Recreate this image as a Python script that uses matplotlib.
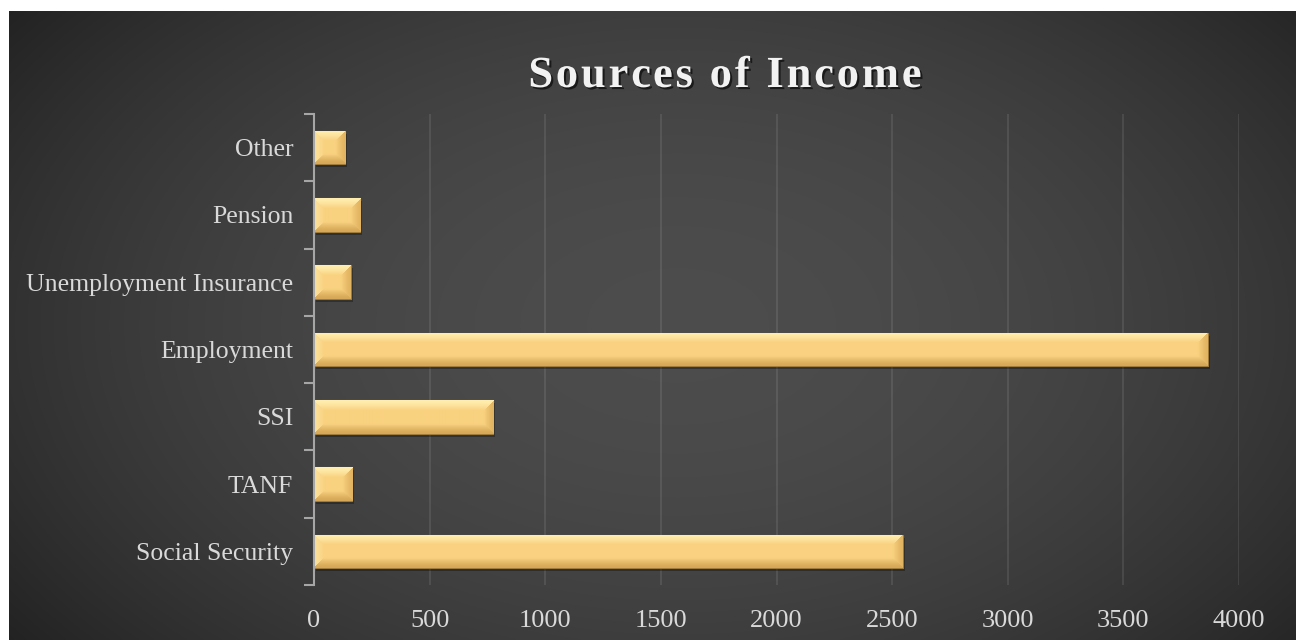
import numpy as np
import matplotlib.pyplot as plt
import matplotlib.patheffects as pe
from matplotlib.transforms import offset_copy

categories = ["Social Security", "TANF", "SSI", "Employment",
              "Unemployment Insurance", "Pension", "Other"]
values = [2545, 165, 775, 3865, 160, 200, 135]
xticks = [0, 500, 1000, 1500, 2000, 2500, 3000, 3500, 4000]
title = "Sources of Income"

W, H = 1296, 640
fig = plt.figure(figsize=(W / 100, H / 100), dpi=100, facecolor="white")
plt.rcParams['font.family'] = ['Liberation Serif', 'DejaVu Serif']

# dark radial background
bg = fig.add_axes([9 / W, 0, 1 - 9 / W, 1 - 11 / H])
bg.set_axis_off()
gy, gx = np.mgrid[0:1:300j, 0:1:600j]
r2 = ((gx - 0.52) / 0.62) ** 2 + ((gy - 0.5) / 0.8) ** 2
shade = np.clip(0.30 - 0.15 * r2, 0.13, 0.30)
bg.imshow(np.dstack([shade] * 3), aspect="auto", extent=(0, 1, 0, 1),
          interpolation="bilinear")
bg.set_xlim(0, 1)
bg.set_ylim(0, 1)

ax = fig.add_axes([314 / W, 1 - 585 / H, (1239 - 314) / W, (585 - 114) / H])
ax.set_facecolor("none")
ypos = np.arange(len(categories))
bar_h = 0.5
ax.set_xlim(0, 4000)
ax.set_ylim(-0.5, len(categories) - 0.5)

# soft shadow under each bar
shadow_tr = offset_copy(ax.transData, fig=fig, x=2, y=-3, units="dots")
ax.barh(ypos, values, height=bar_h, color="black", alpha=0.3,
        transform=shadow_tr, zorder=2, linewidth=0)

bars = ax.barh(ypos, values, height=bar_h, color="#f8d07e",
               edgecolor="#a07c3c", linewidth=0.8, zorder=3)

face = np.array([249, 210, 128]) / 255
top_c = np.array([255, 238, 175]) / 255
bot_c = np.array([214, 168, 88]) / 255
left_c = np.array([252, 224, 152]) / 255
right_c = np.array([226, 180, 98]) / 255

for b, v, y in zip(bars, values, ypos):
    x0, y0 = ax.transData.transform((0, y - bar_h / 2))
    x1, y1 = ax.transData.transform((v, y + bar_h / 2))
    pw, ph = max(int(round(x1 - x0)), 2), max(int(round(y1 - y0)), 2)
    bev = min(9.5, ph / 3.0)
    jj, ii = np.meshgrid(np.arange(pw), np.arange(ph))
    d = np.stack([ii, ph - 1 - ii, jj, pw - 1 - jj]).astype(float)
    which = np.argmin(d, axis=0)
    dmin = np.min(d, axis=0)
    edge = np.empty((ph, pw, 3))
    for k, c in enumerate([top_c, bot_c, left_c, right_c]):
        edge[which == k] = c
    t = np.clip(dmin / bev, 0, 1)[..., None] ** 1.4
    img = edge * (1 - t) + face * t
    img[dmin >= bev] = face
    im = ax.imshow(img, extent=(0, v, y - bar_h / 2, y + bar_h / 2),
                   aspect="auto", interpolation="bilinear", zorder=3.5)
    im.set_clip_path(b)

ax.set_xlim(0, 4000)
ax.set_ylim(-0.5, len(categories) - 0.5)

ax.set_xticks(xticks)
ax.set_xticklabels([str(t) for t in xticks])
ax.set_yticks(np.arange(-0.5, len(categories), 1.0))
ax.set_yticklabels([])
ax.set_yticks(ypos, minor=True)
ax.set_yticklabels(categories, minor=True)
ax.tick_params(axis="y", which="major", length=7, width=1.5, color="#a6a6a6",
               direction="out")
ax.tick_params(axis="y", which="minor", length=0, pad=15, labelsize=18.5,
               labelcolor="#d9d9d9")
ax.tick_params(axis="x", length=0, pad=18, labelsize=19, labelcolor="#d9d9d9")

ax.grid(axis="x", color="white", alpha=0.11, linewidth=1.2, zorder=0)
ax.set_axisbelow(True)
for s in ["top", "right", "bottom"]:
    ax.spines[s].set_visible(False)
ax.spines["left"].set_color("#a6a6a6")
ax.spines["left"].set_linewidth(1.5)
ax.spines["left"].set_zorder(4)

# title with letter spacing, drawn char by char
renderer = fig.canvas.get_renderer()
tprops = dict(fontsize=32, fontweight="bold", color="#f2f2f2")
spacing = 2.8


def text_width(s):
    if not s:
        return 0.0
    tmp = fig.text(0, 0, s.replace(" ", "\u00a0"), **tprops)
    w = tmp.get_window_extent(renderer).width
    tmp.remove()
    return w


total = text_width(title) + spacing * (len(title) - 1)
x_start = 725 - total / 2
shadow = [pe.withSimplePatchShadow(offset=(1.5, -1.5), shadow_rgbFace="black",
                                   alpha=0.6)]
for k, ch in enumerate(title):
    if ch == " ":
        continue
    xk = x_start + text_width(title[:k]) + spacing * k
    fig.text(xk / W, 1 - 87 / H, ch, ha="left", va="baseline",
             path_effects=shadow, **tprops)

fig.savefig("out.png", dpi=100)
